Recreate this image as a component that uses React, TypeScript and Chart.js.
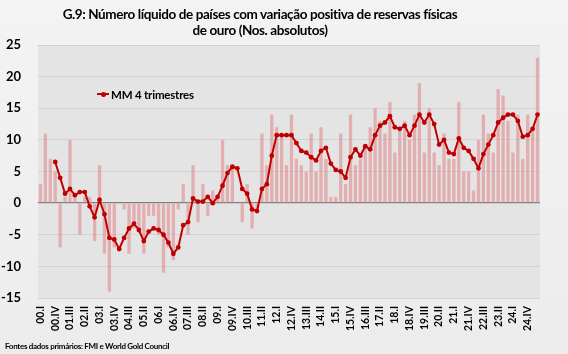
import React, { useEffect, useRef } from "react";
import { Chart, registerables } from "chart.js";

Chart.register(...registerables);

const quarters = [
  "00.I","00.II","00.III","00.IV","01.I","01.II","01.III","01.IV",
  "02.I","02.II","02.III","02.IV","03.I","03.II","03.III","03.IV",
  "04.I","04.II","04.III","04.IV","05.I","05.II","05.III","05.IV",
  "06.I","06.II","06.III","06.IV","07.I","07.II","07.III","07.IV",
  "08.I","08.II","08.III","08.IV","09.I","09.II","09.III","09.IV",
  "10.I","10.II","10.III","10.IV","11.I","11.II","11.III","11.IV",
  "12.I","12.II","12.III","12.IV","13.I","13.II","13.III","13.IV",
  "14.I","14.II","14.III","14.IV","15.I","15.II","15.III","15.IV",
  "16.I","16.II","16.III","16.IV","17.I","17.II","17.III","17.IV",
  "18.I","18.II","18.III","18.IV","19.I","19.II","19.III","19.IV",
  "20.I","20.II","20.III","20.IV","21.I","21.II","21.III","21.IV",
  "22.I","22.II","22.III","22.IV","23.I","23.II","23.III","23.IV",
  "24.I","24.II","24.III","24.IV","25.I","25.II",
];

// Net number of countries with positive change in physical gold reserves
const netCountries = [
  3, 11, 7, 5, -7, 1, 10, 1,
  -5, 1, 1, -6, 6, -8, -14, -7,
  0, -1, -8, -4, -4, -8, -2, -2,
  -5, -11, -7, -9, -1, 3, -5, 6,
  -3, 3, -2, 2, 1, 10, 6, 6,
  0, -3, 3, -4, -1, 11, 6, 14,
  12, 11, 6, 14, 7, 6, 5, 11,
  5, 12, 7, 1, 1, 11, 3, 14,
  6, 7, 9, 12, 15, 13, 11, 16,
  8, 12, 13, 10, 14, 19, 8, 15,
  8, 6, 11, 7, 7, 16, 5, 5,
  2, 10, 14, 11, 8, 18, 17, 13,
  8, 14, 7, 14, 12, 23,
];

// 4-quarter moving average ("MM 4 trimestres")
const movingAvg4 = [
  null, null, null, 6.5, 4.0, 1.5, 2.25, 1.25,
  1.75, 1.75, -0.5, -2.25, 0.5, -1.75, -5.5, -5.75,
  -7.25, -5.5, -4.0, -3.25, -4.25, -6.0, -4.5, -4.0,
  -4.25, -5.0, -6.25, -8.0, -7.0, -3.5, -3.0, 0.75,
  0.25, 0.25, 1.0, 0.0, 1.0, 2.75, 4.75, 5.75,
  5.5, 2.25, 1.5, -1.0, -1.25, 2.25, 3.0, 7.5,
  10.75, 10.75, 10.75, 10.75, 9.5, 8.25, 8.0, 7.25,
  6.75, 8.25, 8.75, 6.25, 5.25, 5.0, 4.0, 7.25,
  8.5, 7.5, 9.0, 8.5, 10.75, 12.25, 12.75, 13.75,
  12.0, 11.75, 12.25, 10.75, 12.25, 14.0, 12.75, 14.0,
  12.5, 9.25, 10.0, 8.0, 7.75, 10.25, 8.75, 8.25,
  7.0, 5.5, 7.75, 9.25, 10.75, 12.75, 13.5, 14.0,
  14.0, 13.0, 10.5, 10.75, 11.75, 14.0,
];

const yMin = -15;
const yMax = 25;
const yStep = 5;
const labelEvery = 3;

const titleLines = [
  "G.9: Número líquido de países com variação positiva de reservas físicas",
  "de ouro (Nos. absolutos)",
];
const legendLabel = "MM 4 trimestres";
const sourceNote = "Fontes dados primários: FMI e World Gold Council";

const FONT = "Lato, 'Open Sans', sans-serif";
const LINE_RED = "#c00000";
const BAR_PINK = "rgba(224, 140, 143, 0.62)";

const plotBg = {
  id: "plotBg",
  beforeDraw(chart: any) {
    const { ctx, chartArea } = chart;
    if (!chartArea) return;
    ctx.save();
    ctx.fillStyle = "#e4e4e4";
    ctx.fillRect(chartArea.left, chartArea.top, chartArea.width, chartArea.height);
    ctx.restore();
  },
};

export default function App() {
  const canvasRef = useRef<HTMLCanvasElement | null>(null);

  useEffect(() => {
    document.body.style.margin = "0";
    const canvas = canvasRef.current;
    if (!canvas) return;
    const chart = new Chart(canvas, {
      type: "bar",
      data: {
        labels: quarters,
        datasets: [
          {
            type: "line",
            label: legendLabel,
            data: movingAvg4 as any,
            borderColor: LINE_RED,
            backgroundColor: LINE_RED,
            borderWidth: 2,
            pointRadius: 2.4,
            pointBackgroundColor: LINE_RED,
            pointBorderColor: LINE_RED,
            pointBorderWidth: 0,
            tension: 0,
            order: 1,
          } as any,
          {
            type: "bar",
            label: "Número líquido",
            data: netCountries,
            backgroundColor: BAR_PINK,
            borderWidth: 0,
            barPercentage: 0.66,
            categoryPercentage: 1.0,
            order: 2,
          },
        ],
      },
      options: {
        animation: false,
        responsive: false,
        maintainAspectRatio: false,
        layout: { padding: { top: 45, right: 28, bottom: 0, left: 0 } },
        plugins: {
          legend: { display: false },
          tooltip: { enabled: false },
          title: { display: false },
        },
        scales: {
          x: {
            offset: true,
            grid: { display: false, drawTicks: false },
            border: { display: false },
            ticks: {
              autoSkip: false,
              minRotation: 90,
              maxRotation: 90,
              padding: 8,
              color: "#000",
              font: { family: FONT, size: 10.5, weight: "bold" },
              callback: (_v: any, i: number) => (i % labelEvery === 0 ? quarters[i] : ""),
            },
            afterFit: (scale: any) => {
              scale.height = 56;
            },
          },
          y: {
            min: yMin,
            max: yMax,
            grid: {
              drawTicks: false,
              color: (ctx: any) => (ctx.tick && ctx.tick.value === 0 ? "#7f7f7f" : "#d2d2d2"),
              lineWidth: (ctx: any) => (ctx.tick && ctx.tick.value === 0 ? 1.3 : 1),
            },
            border: { display: false },
            ticks: {
              stepSize: yStep,
              padding: 17,
              color: "#000",
              font: { family: FONT, size: 13, weight: "bold" },
            },
            afterFit: (scale: any) => {
              scale.width = 38;
            },
          },
        },
      },
      plugins: [plotBg],
    });
    return () => chart.destroy();
  }, []);

  return (
    <div
      style={{
        position: "relative",
        width: 568,
        height: 354,
        background: "linear-gradient(180deg, #f3f3f3 0%, #ececec 100%)",
        fontFamily: FONT,
        overflow: "hidden",
      }}
    >
      <canvas ref={canvasRef} width={568} height={354} style={{ position: "absolute", left: 0, top: 0 }} />
      <div
        style={{
          position: "absolute",
          left: 0,
          width: 520,
          top: 6,
          textAlign: "center",
          fontWeight: 700,
          fontSize: 13.5,
          letterSpacing: "-0.4px",
          lineHeight: "16px",
          color: "#000",
        }}
      >
        {titleLines.map((t) => (
          <div key={t}>{t}</div>
        ))}
      </div>
      <div
        style={{
          position: "absolute",
          left: 97,
          top: 87,
          display: "flex",
          alignItems: "center",
          fontWeight: 700,
          fontSize: 11.5,
          letterSpacing: "-0.2px",
          color: "#000",
          whiteSpace: "nowrap",
        }}
      >
        <span style={{ position: "relative", display: "inline-block", width: 12, height: 14, marginRight: 2 }}>
          <span style={{ position: "absolute", left: 0, top: 6, width: 12, height: 2, background: LINE_RED }} />
          <span
            style={{
              position: "absolute",
              left: 3.5,
              top: 4.5,
              width: 5,
              height: 5,
              borderRadius: "50%",
              background: LINE_RED,
            }}
          />
        </span>
        <span>{legendLabel}</span>
      </div>
      <div
        style={{
          position: "absolute",
          left: 5,
          top: 341,
          fontWeight: 700,
          fontSize: 8,
          letterSpacing: "-0.3px",
          color: "#000",
          whiteSpace: "nowrap",
        }}
      >
        {sourceNote}
      </div>
    </div>
  );
}
